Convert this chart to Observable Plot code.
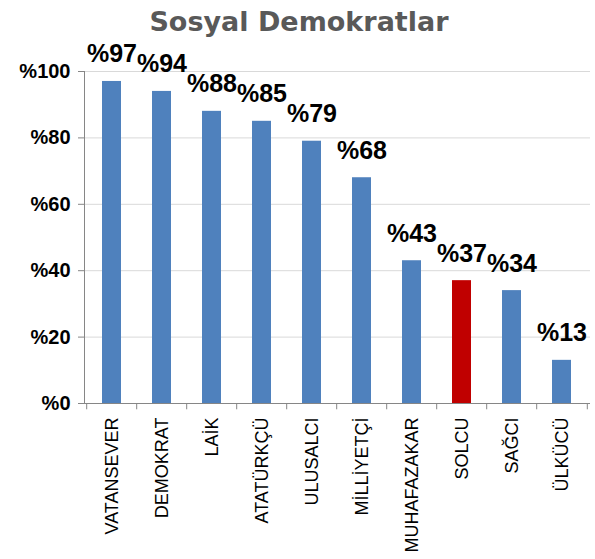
<!DOCTYPE html>
<html>
<head>
<meta charset="utf-8">
<script src="https://cdn.jsdelivr.net/npm/d3@7"></script>
<script src="https://cdn.jsdelivr.net/npm/@observablehq/plot@0.6"></script>
<style>
  body { margin: 0; background: #fff; }
  #title { height: 40px; width: 595px; text-align: center; font-family: "DejaVu Sans", sans-serif; font-weight: bold; font-size: 27px; color: #595959; line-height: 44px; padding-left: 3px; box-sizing: border-box; }
</style>
</head>
<body>
<div id="title">Sosyal Demokratlar</div>
<div id="chart"></div>
<script>
const categories = ["VATANSEVER", "DEMOKRAT", "LAİK", "ATATÜRKÇÜ", "ULUSALCI", "MİLLİYETÇİ", "MUHAFAZAKAR", "SOLCU", "SAĞCI", "ÜLKÜCÜ"];
const values = [97, 94, 88, 85, 79, 68, 43, 37, 34, 13];
const highlighted = ["SOLCU"];
const yTicks = [0, 20, 40, 60, 80, 100];

const data = categories.map((c, i) => ({category: c, value: values[i], hi: highlighted.includes(c)}));

const W = 595, H = 519, mL = 84, mR = 5;
const half = (W - mL - mR) / categories.length / 2;

const chart = Plot.plot({
  width: W,
  height: H,
  marginLeft: mL,
  marginRight: mR,
  marginTop: 31,
  marginBottom: 156,
  style: {fontFamily: "Liberation Sans, Arial, sans-serif", background: "#fff"},
  x: {domain: categories, paddingInner: 0.62, paddingOuter: 0.31, label: null},
  y: {domain: [0, 100], label: null},
  marks: [
    Plot.gridY(yTicks.slice(1), {stroke: "#d9d9d9", strokeOpacity: 1}),
    Plot.barY(data, {x: "category", y: "value", fill: d => d.hi ? "#C00000" : "#4F81BD"}),
    Plot.ruleY([0], {stroke: "#868686"}),
    Plot.frame({anchor: "left", stroke: "#868686"}),
    Plot.ruleX(categories, {x: d => d, y1: 0, y2: -1.9, dx: -half, stroke: "#868686"}),
    Plot.ruleX(categories.slice(-1), {x: d => d, y1: 0, y2: -1.9, dx: half, stroke: "#868686"}),
    Plot.axisY({ticks: yTicks, tickFormat: d => "%" + d, tickSize: 6, tickPadding: 8, fontSize: 20, fontWeight: "bold", stroke: "#868686", color: "#000", label: null}),
    Plot.axisX({tickSize: 0, tickPadding: 14, tickRotate: -90, fontSize: 18, fill: "#000", label: null}),
    Plot.text(data, {x: "category", y: "value", text: d => "%" + d.value, lineAnchor: "bottom", dy: -19, fontSize: 25, fontWeight: "bold", fill: "#000"})
  ]
});
document.getElementById("chart").appendChild(chart);
</script>
</body>
</html>
